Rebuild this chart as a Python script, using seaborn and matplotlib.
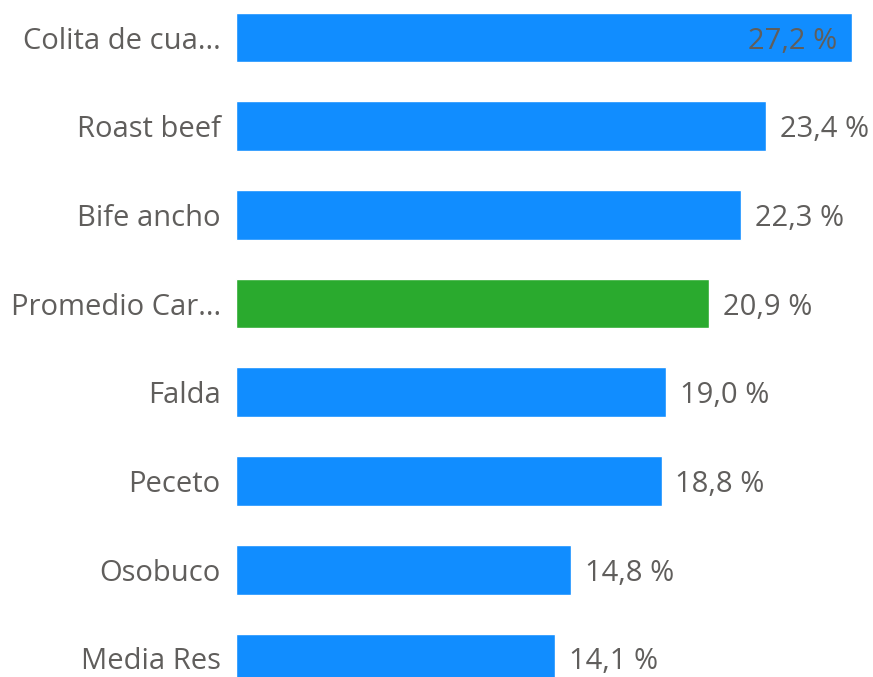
import matplotlib
matplotlib.use("Agg")
import matplotlib.pyplot as plt
import seaborn as sns
import pandas as pd

# data
categories = ["Colita de cua...", "Roast beef", "Bife ancho", "Promedio Car...",
              "Falda", "Peceto", "Osobuco", "Media Res"]
values = [27.2, 23.4, 22.3, 20.9, 19.0, 18.8, 14.8, 14.1]
groups = ["corte", "corte", "corte", "promedio", "corte", "corte", "corte", "corte"]

BLUE = "#118DFF"
GREEN = "#2AAA2E"
TEXT = "#605E5C"

df = pd.DataFrame({"corte": categories, "valor": values, "grupo": groups})

sns.set_theme(style="white")
plt.rcParams["font.family"] = ["Open Sans", "DejaVu Sans"]

fig = plt.figure(figsize=(8.73, 6.77), dpi=100)
ax = fig.add_axes([236 / 873, 0, 1 - 236 / 873, 1])

sns.barplot(data=df, x="valor", y="corte", hue="grupo",
            palette={"corte": BLUE, "promedio": GREEN},
            dodge=False, legend=False, width=0.56, saturation=1, ax=ax)

ax.set_xlim(0, 637 / 22.65)
ax.set_ylim(7.21, -0.423)
ax.set_xlabel("")
ax.set_ylabel("")
ax.set_xticks([])
ax.tick_params(axis="y", length=0, pad=11, labelsize=21, labelcolor=TEXT)
sns.despine(ax=ax, left=True, bottom=True, top=True, right=True)

# value labels
for i, v in enumerate(values):
    label = f"{v:.1f} %".replace(".", ",")
    if v > 26:
        ax.text(v - 0.66, i, label, ha="right", va="center_baseline",
                fontsize=21, color=TEXT)
    else:
        ax.text(v + 0.6, i, label, ha="left", va="center_baseline",
                fontsize=21, color=TEXT)

fig.savefig("out.png", dpi=100)
